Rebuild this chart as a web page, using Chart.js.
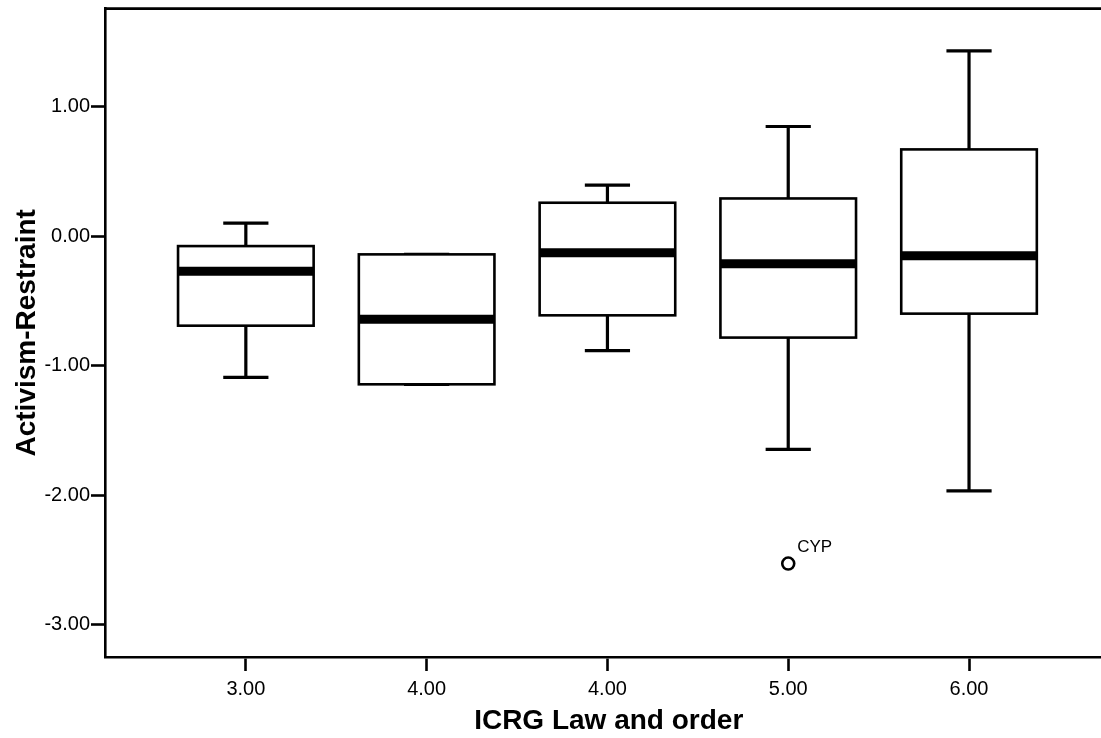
<!DOCTYPE html>
<html>
<head>
<meta charset="utf-8">
<script src="https://cdn.jsdelivr.net/npm/chart.js@4/dist/chart.umd.min.js"></script>
<style>
  html, body { margin: 0; padding: 0; background: #fff; overflow: hidden; }
  #wrap { width: 1121px; height: 738px; }
</style>
</head>
<body>
<div id="wrap"><canvas id="boxChart"></canvas></div>
<script>
// du lieu doc tu hinh
var categories = ['3.00', '4.00', '4.00', '5.00', '6.00'];
var whiskerLow  = [-1.09, -1.143, -0.883, -1.645, -1.967];
var q1          = [-0.69, -1.143, -0.61, -0.782, -0.597];
var median      = [-0.27, -0.64, -0.126, -0.211, -0.149];
var q3          = [-0.075, -0.139, 0.26, 0.293, 0.672];
var whiskerHigh = [0.103, -0.139, 0.396, 0.849, 1.434];

var outlierCat   = [3];
var outlierValue = [-2.528];
var outlierLabel = ['CYP'];

var yTicks = [-3, -2, -1, 0, 1];

var fontFamily = '"Liberation Sans", Arial, sans-serif';

// ve hop, rau, trung vi bang scale cua chart
var boxPlugin = {
    id: 'boxPlugin',
    afterDatasetsDraw: function (chart) {
        var ctx = chart.ctx;
        var xs = chart.scales.x;
        var ys = chart.scales.y;
        var area = chart.chartArea;
        ctx.save();
        ctx.strokeStyle = '#000';

        for (var i = 0; i < categories.length; i++) {
            var cx = xs.getPixelForValue(i);
            var left = xs.getPixelForValue(i - 0.375);
            var right = xs.getPixelForValue(i + 0.375);
            var capL = xs.getPixelForValue(i - 0.125);
            var capR = xs.getPixelForValue(i + 0.125);
            var yLow = ys.getPixelForValue(whiskerLow[i]);
            var yQ1 = ys.getPixelForValue(q1[i]);
            var yMed = ys.getPixelForValue(median[i]);
            var yQ3 = ys.getPixelForValue(q3[i]);
            var yHigh = ys.getPixelForValue(whiskerHigh[i]);

            // rau
            ctx.lineWidth = 3.2;
            ctx.beginPath();
            ctx.moveTo(cx, yHigh); ctx.lineTo(cx, yQ3);
            ctx.moveTo(cx, yQ1); ctx.lineTo(cx, yLow);
            ctx.moveTo(capL, yHigh); ctx.lineTo(capR, yHigh);
            ctx.moveTo(capL, yLow); ctx.lineTo(capR, yLow);
            ctx.stroke();

            // hop
            ctx.fillStyle = '#fff';
            ctx.fillRect(left, yQ3, right - left, yQ1 - yQ3);
            ctx.lineWidth = 2.6;
            ctx.strokeRect(left, yQ3, right - left, yQ1 - yQ3);

            // trung vi
            ctx.lineWidth = 9;
            ctx.beginPath();
            ctx.moveTo(left, yMed); ctx.lineTo(right, yMed);
            ctx.stroke();
        }

        // nhan outlier
        ctx.fillStyle = '#000';
        ctx.font = '17px ' + fontFamily;
        ctx.textAlign = 'left';
        ctx.textBaseline = 'alphabetic';
        for (var k = 0; k < outlierCat.length; k++) {
            var px = xs.getPixelForValue(outlierCat[k]);
            var py = ys.getPixelForValue(outlierValue[k]);
            ctx.fillText(outlierLabel[k], px + 9, py - 12);
        }

        // duong khung tren
        ctx.lineWidth = 2.6;
        ctx.beginPath();
        ctx.moveTo(area.left, area.top);
        ctx.lineTo(area.right, area.top);
        ctx.stroke();
        ctx.restore();
    }
};

var outlierPoints = [];
for (var k = 0; k < outlierCat.length; k++) {
    outlierPoints.push({ x: outlierCat[k], y: outlierValue[k] });
}

var ctx = document.getElementById('boxChart').getContext('2d');
var chart = new Chart(ctx, {
    type: 'scatter',
    data: {
        datasets: [
            {
                label: 'outliers',
                data: outlierPoints,
                pointRadius: 6,
                pointBorderWidth: 2.6,
                pointBackgroundColor: '#fff',
                pointBorderColor: '#000'
            }
        ]
    },
    options: {
        responsive: true,
        maintainAspectRatio: false,
        animation: false,
        layout: { padding: { top: 8, right: 1, left: 0, bottom: 0 } },
        plugins: {
            legend: { display: false },
            tooltip: { enabled: false }
        },
        scales: {
            x: {
                type: 'linear',
                min: -0.779,
                max: 4.793,
                afterBuildTicks: function (scale) {
                    scale.ticks = categories.map(function (c, i) { return { value: i }; });
                },
                afterFit: function (scale) {
                    scale.height = 81;
                    scale.paddingLeft = 0;
                    scale.paddingRight = 0;
                },
                grid: {
                    drawOnChartArea: false,
                    drawTicks: true,
                    tickLength: 14,
                    tickWidth: 2.6,
                    tickColor: '#000'
                },
                border: { display: true, color: '#000', width: 2.6 },
                ticks: {
                    color: '#000',
                    font: { family: fontFamily, size: 20 },
                    padding: 6,
                    maxRotation: 0,
                    autoSkip: false,
                    callback: function (value) { return categories[value]; }
                },
                title: {
                    display: true,
                    text: 'ICRG Law and order',
                    color: '#000',
                    font: { family: fontFamily, size: 28, weight: 'bold' },
                    padding: 0
                }
            },
            y: {
                min: -3.25,
                max: 1.76,
                afterBuildTicks: function (scale) {
                    scale.ticks = yTicks.map(function (v) { return { value: v }; });
                },
                afterFit: function (scale) {
                    scale.width = 105;
                    scale.paddingTop = 0;
                    scale.paddingBottom = 0;
                },
                grid: {
                    drawOnChartArea: false,
                    drawTicks: true,
                    tickLength: 14,
                    tickWidth: 2.6,
                    tickColor: '#000'
                },
                border: { display: true, color: '#000', width: 2.6 },
                ticks: {
                    color: '#000',
                    font: { family: fontFamily, size: 20 },
                    padding: 1,
                    callback: function (value) { return value.toFixed(2); }
                },
                title: {
                    display: true,
                    text: 'Activism-Restraint',
                    color: '#000',
                    font: { family: fontFamily, size: 28, weight: 'bold' },
                    padding: { top: 10, bottom: 0 }
                }
            }
        }
    },
    plugins: [boxPlugin]
});
</script>
</body>
</html>
